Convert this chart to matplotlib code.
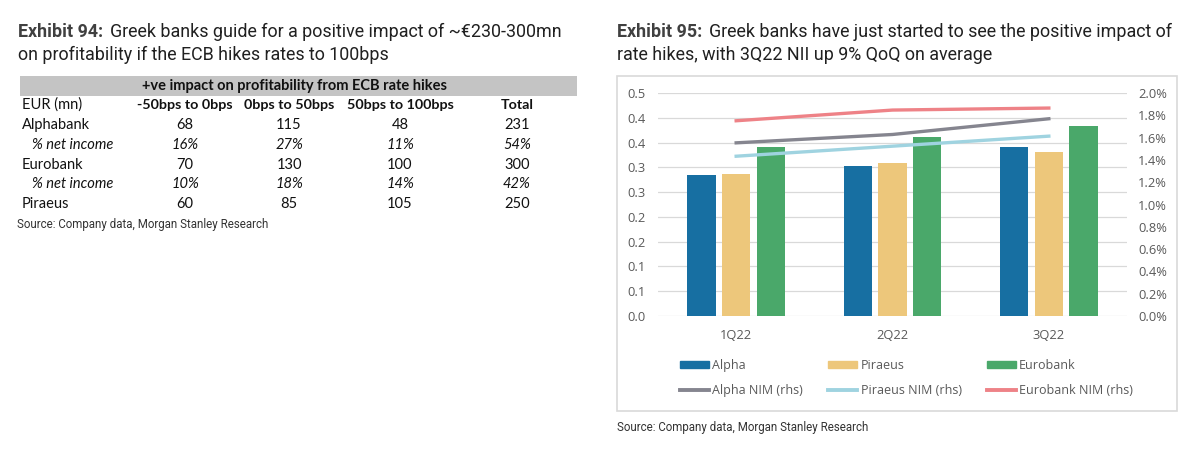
import numpy as np
import matplotlib
matplotlib.use("Agg")
from matplotlib import pyplot as plt
from matplotlib.patches import Rectangle, Patch
from matplotlib.lines import Line2D

# ---- Exhibit 94 table data
col_heads = ['-50bps to 0bps', '0bps to 50bps', '50bps to 100bps', 'Total']
row_names = ['Alphabank', '% net income', 'Eurobank', '% net income', 'Piraeus']
row_vals = [['68', '115', '48', '231'],
            ['16%', '27%', '11%', '54%'],
            ['70', '130', '100', '300'],
            ['10%', '18%', '14%', '42%'],
            ['60', '85', '105', '250']]

# ---- Exhibit 95 chart data
quarters = ['1Q22', '2Q22', '3Q22']
alpha = [0.316, 0.337, 0.379]
piraeus = [0.319, 0.342, 0.368]
eurobank = [0.379, 0.402, 0.425]
alpha_nim = [1.553, 1.628, 1.769]
piraeus_nim = [1.433, 1.523, 1.613]
eurobank_nim = [1.751, 1.847, 1.865]

W, H = 1200, 461
fig = plt.figure(figsize=(12, 4.61), dpi=100)

def fx(x):
    return x / W

def fy(y):
    return 1 - y / H

title_font = 'Roboto'
tbl_font = 'Lato'
tsize = 12.9

# titles
def title(x, y1, y2, num, line1, line2):
    t = fig.text(fx(x), fy(y1), 'Exhibit %s:' % num, fontsize=tsize, fontweight='bold',
                 family=title_font, color='#404040', va='center', ha='left')
    fig.canvas.draw()
    bb = t.get_window_extent()
    fig.text(bb.x1 / W + 0.006, fy(y1), line1, fontsize=tsize, family=title_font,
             color='#202020', va='center', ha='left')
    fig.text(fx(x), fy(y2), line2, fontsize=tsize, family=title_font,
             color='#202020', va='center', ha='left')

title(18, 32, 55, '94', 'Greek banks guide for a positive impact of ~\u20ac230-300mn',
      'on profitability if the ECB hikes rates to 100bps')
title(617, 32, 55, '95', 'Greek banks have just started to see the positive impact of',
      'rate hikes, with 3Q22 NII up 9% QoQ on average')

# table
fig.patches.append(Rectangle((fx(20), fy(96)), fx(577) - fx(20), fy(76) - fy(96),
                             transform=fig.transFigure, facecolor='#c4c4c4', edgecolor='none'))
fig.text(fx(295), fy(86), '+ve impact on profitability from ECB rate hikes', fontsize=10.5,
         fontweight='bold', family=tbl_font, ha='center', va='center', color='#111111')
col_x = [185, 289, 400, 517]
fig.text(fx(22), fy(105), 'EUR (mn)', fontsize=10.5, family=tbl_font, va='center', color='#111111')
for cx, h in zip(col_x, col_heads):
    fig.text(fx(cx), fy(105), h, fontsize=10.3, fontweight='bold', family=tbl_font,
             ha='center', va='center', color='#111111')
row_y = [125, 145, 165, 184, 204]
for ry, name, vals in zip(row_y, row_names, row_vals):
    italic = name.startswith('%')
    st = 'italic' if italic else 'normal'
    fig.text(fx(32 if italic else 22), fy(ry), name, fontsize=10.5, family=tbl_font,
             style=st, va='center', color='#111111')
    for cx, v in zip(col_x, vals):
        fig.text(fx(cx), fy(ry), v, fontsize=10.5, family=tbl_font, style=st,
                 ha='center', va='center', color='#111111')

fig.text(fx(17), fy(224), 'Source: Company data, Morgan Stanley Research', fontsize=8.3,
         family='Roboto', va='center', color='#333333')
fig.text(fx(617), fy(427), 'Source: Company data, Morgan Stanley Research', fontsize=8.3,
         family='Roboto', va='center', color='#333333')

# chart border
fig.patches.append(Rectangle((fx(617), fy(411)), fx(1177) - fx(617), fy(76) - fy(411),
                             transform=fig.transFigure, facecolor='none',
                             edgecolor='#d9d9d9', linewidth=1.2))

ax = fig.add_axes([fx(658), fy(316), fx(1127) - fx(658), fy(93) - fy(316)])
x = np.arange(len(quarters))
off = 0.222
bw = 0.18
c_alpha, c_pir, c_eur = '#176fa2', '#edc77b', '#4aa86a'
ax.bar(x - off, alpha, bw, color=c_alpha, zorder=2)
ax.bar(x, piraeus, bw, color=c_pir, zorder=2)
ax.bar(x + off, eurobank, bw, color=c_eur, zorder=2)
ax.set_ylim(0, 0.5)
ticks = np.linspace(0, 0.5, 10)
ax.set_yticks(ticks)
ax.set_yticklabels(['%.1f' % t for t in ticks])
ax.set_xlim(-0.5, 2.5)
ax.set_xticks(x)
ax.set_xticklabels(quarters)
ax.grid(axis='y', color='#d9d9d9', linewidth=0.9, zorder=0)
for s in ax.spines.values():
    s.set_visible(False)
ax.tick_params(length=0, labelsize=9.3, labelcolor='#595959', pad=9)
ax.tick_params(axis='x', pad=9)
for lab in ax.get_xticklabels() + ax.get_yticklabels():
    lab.set_family('Open Sans')

ax2 = ax.twinx()
c_anim, c_pnim, c_enim = '#85858f', '#9fd3e0', '#ee8287'
ax2.plot(x, alpha_nim, color=c_anim, lw=2.4, zorder=3)
ax2.plot(x, piraeus_nim, color=c_pnim, lw=2.4, zorder=3)
ax2.plot(x, eurobank_nim, color=c_enim, lw=2.4, zorder=3)
ax2.set_ylim(0, 2.0)
rt = np.arange(0, 2.01, 0.2)
ax2.set_yticks(rt)
ax2.set_yticklabels(['%.1f%%' % t for t in rt])
for s in ax2.spines.values():
    s.set_visible(False)
ax2.tick_params(length=0, labelsize=9.3, labelcolor='#595959', pad=8)
for lab in ax2.get_yticklabels():
    lab.set_family('Open Sans')
ax.set_zorder(1)
ax2.set_zorder(2)
ax2.patch.set_visible(False)

# legend, filled row by row
handles = [Patch(color=c_alpha), Line2D([], [], color=c_anim, lw=2.8),
           Patch(color=c_pir), Line2D([], [], color=c_pnim, lw=2.8),
           Patch(color=c_eur), Line2D([], [], color=c_enim, lw=2.8)]
labels = ['Alpha', 'Alpha NIM (rhs)', 'Piraeus', 'Piraeus NIM (rhs)', 'Eurobank',
          'Eurobank NIM (rhs)']
leg = fig.legend(handles, labels, ncol=3, loc='center left',
                 bbox_to_anchor=(fx(680), fy(378)), frameon=False,
                 prop={'family': 'Open Sans', 'size': 9},
                 handlelength=2.3, handleheight=0.55, handletextpad=0.3,
                 columnspacing=2.0, labelspacing=1.0, borderpad=0, borderaxespad=0)
for t in leg.get_texts():
    t.set_color('#595959')

fig.savefig('out.png', dpi=100)
